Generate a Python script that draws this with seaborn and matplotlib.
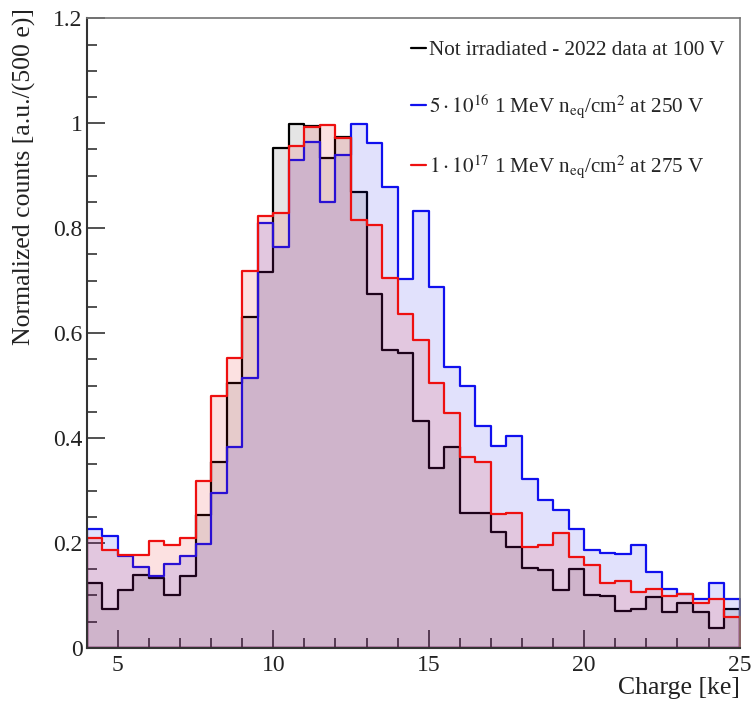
import numpy as np
import pandas as pd
import matplotlib.pyplot as plt
import seaborn as sns
from matplotlib.lines import Line2D
from matplotlib.ticker import MultipleLocator, FuncFormatter

# 0.5 ke bins from 4 to 25 ke
bin_edges = np.arange(4.0, 25.01, 0.5)
bin_centers = bin_edges[:-1] + 0.25

not_irradiated = [0.124, 0.074, 0.110, 0.139, 0.134, 0.101, 0.137, 0.254, 0.354, 0.505,
                  0.630, 0.717, 0.952, 0.998, 0.995, 0.934, 0.974, 0.869, 0.675, 0.567,
                  0.562, 0.433, 0.342, 0.382, 0.257, 0.257, 0.220, 0.193, 0.152, 0.148,
                  0.110, 0.151, 0.101, 0.099, 0.071, 0.074, 0.097, 0.069, 0.086, 0.069,
                  0.038, 0.074]
fluence_5e16 = [0.227, 0.214, 0.176, 0.154, 0.137, 0.159, 0.175, 0.198, 0.296, 0.382,
                0.514, 0.809, 0.765, 0.930, 0.965, 0.850, 0.940, 0.998, 0.962, 0.879,
                0.704, 0.832, 0.687, 0.536, 0.499, 0.423, 0.384, 0.404, 0.322, 0.282,
                0.262, 0.226, 0.187, 0.181, 0.179, 0.197, 0.144, 0.112, 0.103, 0.093,
                0.123, 0.093]
fluence_1e17 = [0.210, 0.186, 0.177, 0.178, 0.204, 0.196, 0.210, 0.318, 0.480, 0.553,
                0.719, 0.823, 0.829, 0.957, 0.993, 0.997, 0.971, 0.815, 0.806, 0.705,
                0.637, 0.587, 0.505, 0.448, 0.363, 0.355, 0.255, 0.257, 0.193, 0.196,
                0.219, 0.173, 0.158, 0.124, 0.127, 0.107, 0.112, 0.098, 0.103, 0.086,
                0.093, 0.059]

series_labels = ["Not irradiated - 2022 data at 100 V",
                 r"$5\cdot10^{16}$ 1 MeV n$_{\mathrm{eq}}$/cm$^{2}$ at 250 V",
                 r"$1\cdot10^{17}$ 1 MeV n$_{\mathrm{eq}}$/cm$^{2}$ at 275 V"]
series_values = [not_irradiated, fluence_5e16, fluence_1e17]
series_colors = ["black", "#1010ee", "#ee1010"]
fill_alpha = [0.10, 0.12, 0.12]

sns.set_style("ticks")
plt.rcParams["font.family"] = ["Liberation Serif", "DejaVu Serif"]
plt.rcParams["mathtext.fontset"] = "stix"

fig = plt.figure(figsize=(7.54, 7.05), dpi=100)
ax = fig.add_axes([0.115, 0.081, 0.866, 0.893])

for vals, col, a in zip(series_values, series_colors, fill_alpha):
    df = pd.DataFrame({"charge": bin_centers, "w": vals})
    sns.histplot(data=df, x="charge", weights="w", binwidth=0.5, binrange=(4, 25),
                 element="step", fill=True, color=col, alpha=a, linewidth=1.6, ax=ax)

ax.set_xlim(4, 25)
ax.set_ylim(0, 1.2)
ax.xaxis.set_major_locator(MultipleLocator(5))
ax.xaxis.set_minor_locator(MultipleLocator(1))
ax.yaxis.set_major_locator(MultipleLocator(0.2))
ax.yaxis.set_minor_locator(MultipleLocator(0.05))
ax.yaxis.set_major_formatter(FuncFormatter(lambda v, p: f"{v:g}"))
ax.tick_params(which="both", direction="in", top=False, right=False,
               labelsize=17, labelcolor="#222222", color="#333333", width=1.2)
ax.tick_params(which="major", length=13)
ax.tick_params(which="minor", length=7)
ax.tick_params(axis="y", which="major", pad=3)
ax.tick_params(axis="x", which="major", pad=5)
for side in ["left", "bottom"]:
    ax.spines[side].set_color("#333333")
    ax.spines[side].set_linewidth(1.5)
for side in ["top", "right"]:
    ax.spines[side].set_color("#777777")
    ax.spines[side].set_linewidth(1.2)

ax.set_xlabel("Charge [ke]", fontsize=18.5, loc="right", color="#222222")
ax.set_ylabel("Normalized counts [a.u./(500 e)]", fontsize=18.5, loc="top", color="#222222")
ax.xaxis.set_label_coords(1.0, -0.046)
ax.yaxis.set_label_coords(-0.077, 1.016)

handles = [Line2D([], [], color=c, linewidth=1.6) for c in series_colors]
ax.legend(handles, series_labels, loc="upper left", bbox_to_anchor=(0.534, 0.955),
          bbox_transform=fig.transFigure, frameon=False, fontsize=15.2,
          handlelength=0.7, handletextpad=0.15, labelspacing=1.55, borderaxespad=0)

fig.savefig("out.png", dpi=100)
